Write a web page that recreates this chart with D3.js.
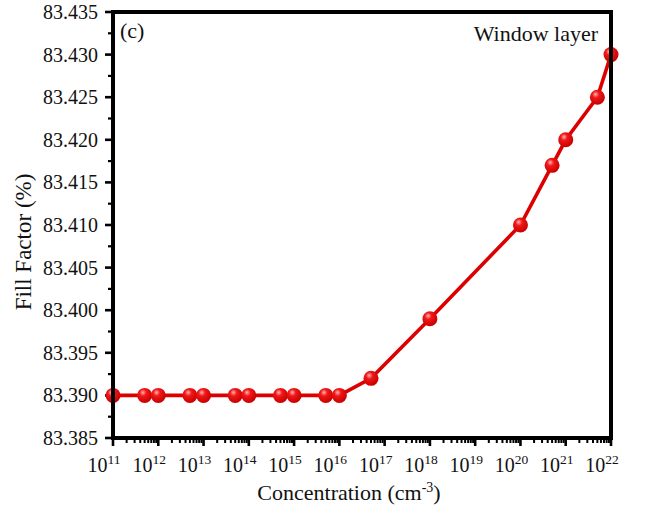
<!DOCTYPE html>
<html>
<head>
<meta charset="utf-8">
<script src="https://cdn.jsdelivr.net/npm/d3@7"></script>
<style>
  html, body { margin: 0; padding: 0; background: #fff; }
  svg { display: block; }
  text { font-family: "Liberation Serif", "Times New Roman", serif; fill: #111; }
</style>
</head>
<body>
<svg id="chart" width="646" height="510"></svg>
<script>
// Fill factor of the cell versus window-layer doping concentration
const concentration = [1e11, 5e11, 1e12, 5e12, 1e13, 5e13, 1e14, 5e14, 1e15, 5e15, 1e16, 5e16, 1e18, 1e20, 5e20, 1e21, 5e21, 1e22];
const fillFactor    = [83.390, 83.390, 83.390, 83.390, 83.390, 83.390, 83.390, 83.390, 83.390, 83.390, 83.390, 83.392, 83.399, 83.410, 83.417, 83.420, 83.425, 83.430];
const xTickExponents = [11, 12, 13, 14, 15, 16, 17, 18, 19, 20, 21, 22];
const yTickValues = [83.385, 83.390, 83.395, 83.400, 83.405, 83.410, 83.415, 83.420, 83.425, 83.430, 83.435];

const svg = d3.select("#chart");
const m = { left: 113, right: 611, top: 12, bottom: 438 };

const x = d3.scaleLog().domain([1e11, 1e22]).range([m.left, m.right]);
const y = d3.scaleLinear().domain([83.385, 83.435]).range([m.bottom, m.top]);

const defs = svg.append("defs");
const grad = defs.append("radialGradient").attr("id", "ball")
  .attr("cx", "0.4").attr("cy", "0.35").attr("r", "0.65").attr("fx", "0.38").attr("fy", "0.3");
grad.append("stop").attr("offset", "0").attr("stop-color", "#ffb3b3");
grad.append("stop").attr("offset", "0.35").attr("stop-color", "#f01818");
grad.append("stop").attr("offset", "1").attr("stop-color", "#c80000");

// minor ticks
const minorX = [];
for (let e = 11; e < 22; e++) for (let k = 2; k <= 9; k++) minorX.push(k * Math.pow(10, e));
svg.append("g").selectAll("line").data(minorX).join("line")
  .attr("x1", d => x(d)).attr("x2", d => x(d))
  .attr("y1", m.bottom).attr("y2", m.bottom + 5)
  .attr("stroke", "#000").attr("stroke-width", 2);

const minorY = d3.range(10).map(i => 83.3875 + i * 0.005);
svg.append("g").selectAll("line").data(minorY).join("line")
  .attr("x1", m.left - 5).attr("x2", m.left)
  .attr("y1", d => y(d)).attr("y2", d => y(d))
  .attr("stroke", "#000").attr("stroke-width", 2.2);

// major ticks
svg.append("g").selectAll("line").data(xTickExponents).join("line")
  .attr("x1", d => x(Math.pow(10, d))).attr("x2", d => x(Math.pow(10, d)))
  .attr("y1", m.bottom).attr("y2", m.bottom + 8)
  .attr("stroke", "#000").attr("stroke-width", 2.6);
svg.append("g").selectAll("line").data(yTickValues).join("line")
  .attr("x1", m.left - 8).attr("x2", m.left)
  .attr("y1", d => y(d)).attr("y2", d => y(d))
  .attr("stroke", "#000").attr("stroke-width", 2.6);

// tick labels
svg.append("g").selectAll("text").data(yTickValues).join("text")
  .attr("x", m.left - 15).attr("y", d => y(d) + 7)
  .attr("text-anchor", "end").attr("font-size", 20)
  .text(d => d.toFixed(3));

const xl = svg.append("g").selectAll("text").data(xTickExponents).join("text")
  .attr("x", d => x(Math.pow(10, d)) - 9).attr("y", m.bottom + 34)
  .attr("text-anchor", "middle").attr("font-size", 20);
xl.append("tspan").text("10");
xl.append("tspan").attr("dy", -8).attr("font-size", 13.5).text(d => d);

// data line and markers
svg.append("path").datum(concentration.map((c, i) => [c, fillFactor[i]]))
  .attr("fill", "none").attr("stroke", "#dd0000").attr("stroke-width", 3.6)
  .attr("d", d3.line().x(d => x(d[0])).y(d => y(d[1])));

svg.append("g").selectAll("circle").data(concentration.map((c, i) => [c, fillFactor[i]])).join("circle")
  .attr("cx", d => x(d[0])).attr("cy", d => y(d[1])).attr("r", 7.5)
  .attr("fill", "url(#ball)");

// frame
svg.append("rect").attr("x", m.left).attr("y", m.top)
  .attr("width", m.right - m.left).attr("height", m.bottom - m.top)
  .attr("fill", "none").attr("stroke", "#000").attr("stroke-width", 4);

// annotations
svg.append("text").attr("x", m.left + 7).attr("y", 38).attr("font-size", 22).text("(c)");
svg.append("text").attr("x", 598).attr("y", 41).attr("text-anchor", "end").attr("font-size", 22).text("Window layer");

// axis titles
svg.append("text").attr("transform", `translate(31,${(m.top + m.bottom) / 2 + 17}) rotate(-90)`)
  .attr("text-anchor", "middle").attr("font-size", 23).text("Fill Factor (%)");
const xt = svg.append("text").attr("x", 349).attr("y", 500).attr("text-anchor", "middle").attr("font-size", 22);
xt.append("tspan").text("Concentration (cm");
xt.append("tspan").attr("dy", -8).attr("font-size", 14).text("-3");
xt.append("tspan").attr("dy", 8).text(")");
</script>
</body>
</html>
